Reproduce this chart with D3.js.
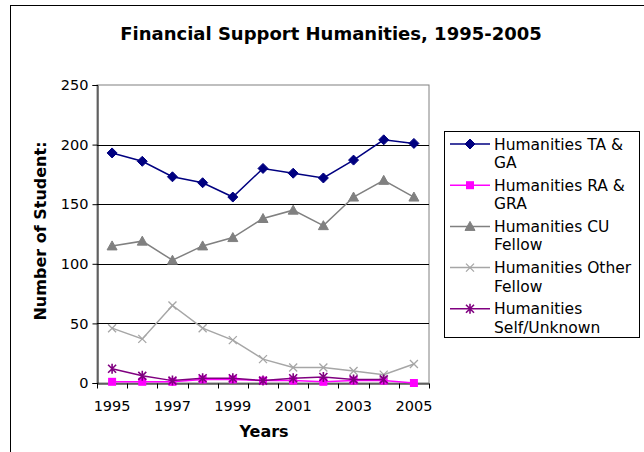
<!DOCTYPE html>
<html><head><meta charset="utf-8">
<script src="https://cdn.jsdelivr.net/npm/d3@7"></script>
<style>body{margin:0;background:#fff}svg{display:block}text{font-family:"DejaVu Sans",Verdana,sans-serif}</style>
</head><body><svg id="c" width="644" height="452"></svg>
<script>
const years = ["1995","1996","1997","1998","1999","2000","2001","2002","2003","2004","2005"];
const yTicks = [0,50,100,150,200,250];
const xTickLabels = ["1995","1997","1999","2001","2003","2005"];
const seriesNames = ["Humanities TA & GA","Humanities RA & GRA","Humanities CU Fellow","Humanities Other Fellow","Humanities Self/Unknown"];
const legendLines = [["Humanities TA &","GA"],["Humanities RA &","GRA"],["Humanities CU","Fellow"],["Humanities Other","Fellow"],["Humanities","Self/Unknown"]];
const taGa = [193,186,173,168,156,180,176,172,187,204,201];
const raGra = [1,1,1,3,3,2,2,1,2,2,0];
const cuFellow = [115,119,103,115,122,138,145,132,156,170,156];
const otherFellow = [46,37,65,46,36,20,13,13,10,7,16];
const selfUnknown = [12,6,2,4,4,2,4,5,3,3,null];
const colors = ["#000080","#FF00FF","#808080","#A6A6A6","#800080"];
const markers = ["diamond","square","triangle","x","star"];
const allSeries = [taGa,raGra,cuFellow,otherFellow,selfUnknown];

const svg = d3.select("#c");
svg.append("rect").attr("x",10.5).attr("y",5.5).attr("width",640).attr("height",460)
  .attr("fill","none").attr("stroke","#000").attr("stroke-width",1);

const L=97, R=429, T=85, B=383;
const x = d3.scaleBand().domain(years).range([L,R]).padding(0);
const y = d3.scaleLinear().domain([0,250]).range([B,T]);

svg.append("rect").attr("x",L).attr("y",T).attr("width",R-L).attr("height",B-T)
  .attr("fill","none").attr("stroke","#808080");
svg.append("g").selectAll("line").data(yTicks.filter(d=>d>0 && d<250)).join("line")
  .attr("x1",L).attr("x2",R).attr("y1",d=>Math.round(y(d))+0.5).attr("y2",d=>Math.round(y(d))+0.5)
  .attr("stroke","#000").attr("stroke-width",1);

const yAxis = d3.axisLeft(y).tickValues(yTicks).tickSize(5).tickPadding(4);
const gy = svg.append("g").attr("transform",`translate(${L+0.5},0)`).call(yAxis);
gy.select(".domain").attr("stroke","#000");
gy.selectAll("line").attr("stroke","#000");
gy.selectAll("text").attr("font-size",14.5).attr("fill","#000");

const xAxis = d3.axisBottom(x).tickValues([]).tickSizeOuter(0);
const gx = svg.append("g").attr("transform",`translate(0,${B+0.5})`).call(xAxis);
gx.select(".domain").attr("stroke","#000");
const bounds = years.map(d=>x(d)).concat([R]);
gx.selectAll("line.tk").data(bounds).join("line").attr("class","tk")
  .attr("x1",d=>Math.round(d)+0.5).attr("x2",d=>Math.round(d)+0.5).attr("y1",0).attr("y2",5).attr("stroke","#000");
gx.selectAll("text.lb").data(xTickLabels).join("text").attr("class","lb")
  .attr("x",d=>x(d)+x.bandwidth()/2).attr("y",27).attr("text-anchor","middle")
  .attr("font-size",14.5).attr("fill","#000").text(d=>d);

svg.append("text").attr("x",331).attr("y",40).attr("text-anchor","middle")
  .attr("font-size",18).attr("font-weight","bold").text("Financial Support Humanities, 1995-2005");
svg.append("text").attr("x",264).attr("y",437).attr("text-anchor","middle")
  .attr("font-size",16).attr("font-weight","bold").text("Years");
svg.append("text").attr("transform","translate(46,231) rotate(-90)").attr("text-anchor","middle")
  .attr("font-size",16).attr("font-weight","bold").text("Number of Student:");

function marker(g, type, color, cx, cy){
  if(type==="diamond"){
    g.append("path").attr("d",`M${cx},${cy-5}L${cx+5},${cy}L${cx},${cy+5}L${cx-5},${cy}Z`).attr("fill",color).attr("stroke",color);
  } else if(type==="square"){
    g.append("rect").attr("x",cx-4).attr("y",cy-4).attr("width",8).attr("height",8).attr("fill",color);
  } else if(type==="triangle"){
    g.append("path").attr("d",`M${cx},${cy-5}L${cx+5},${cy+4}L${cx-5},${cy+4}Z`).attr("fill",color).attr("stroke",color);
  } else if(type==="x"){
    g.append("path").attr("d",`M${cx-4},${cy-4}L${cx+4},${cy+4}M${cx-4},${cy+4}L${cx+4},${cy-4}`).attr("stroke",color).attr("stroke-width",1.3).attr("fill","none");
  } else if(type==="star"){
    g.append("path").attr("d",`M${cx-4},${cy-4}L${cx+4},${cy+4}M${cx-4},${cy+4}L${cx+4},${cy-4}M${cx},${cy-5}L${cx},${cy+5}`).attr("stroke",color).attr("stroke-width",1.6).attr("fill","none");
  }
}

const line = d3.line().defined(d=>d[1]!==null).x(d=>x(d[0])+x.bandwidth()/2).y(d=>y(d[1]));
allSeries.forEach((vals,i)=>{
  const data = years.map((yr,j)=>[yr,vals[j]]);
  const g = svg.append("g");
  g.append("path").attr("d",line(data)).attr("fill","none").attr("stroke",colors[i]).attr("stroke-width",1.5);
  data.filter(d=>d[1]!==null).forEach(d=>marker(g,markers[i],colors[i],x(d[0])+x.bandwidth()/2,y(d[1])));
});

const lg = svg.append("g");
lg.append("rect").attr("x",444.5).attr("y",131.5).attr("width",195).attr("height",206).attr("fill","#fff").attr("stroke","#000");
seriesNames.forEach((n,i)=>{
  const cy = 144 + i*41.2;
  lg.append("line").attr("x1",450).attr("x2",490).attr("y1",cy).attr("y2",cy).attr("stroke",colors[i]).attr("stroke-width",1.5);
  marker(lg,markers[i],colors[i],470,cy);
  legendLines[i].forEach((t,k)=>{
    lg.append("text").attr("x",494).attr("y",cy+5.5+k*18.4).attr("font-size",15.5).text(t);
  });
});
</script></body></html>
